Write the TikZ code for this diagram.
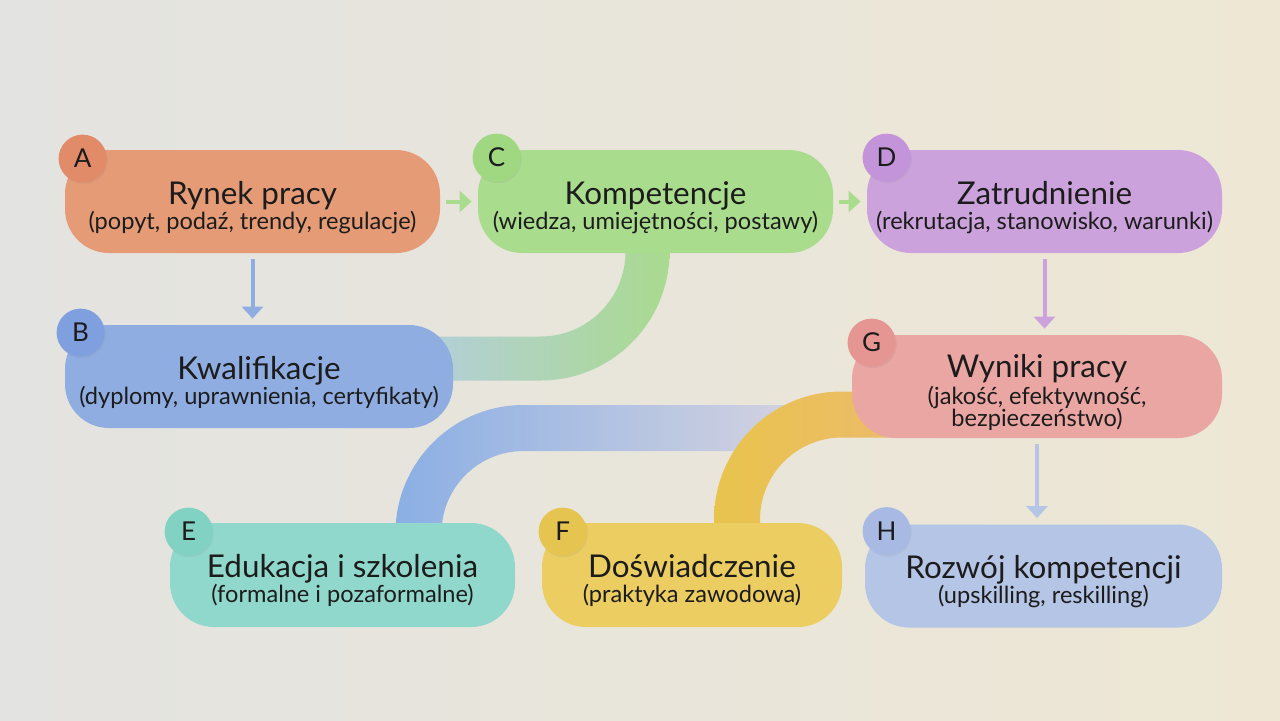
\documentclass[tikz,border=0pt]{standalone}
\usepackage{fontspec}
\setmainfont{Lato}
\usetikzlibrary{arrows.meta, calc, positioning, shadows}

\definecolor{ink}{HTML}{1C1C1C}
\definecolor{bgL}{HTML}{E3E3E1}
\definecolor{bgR}{HTML}{EEE7D4}
\definecolor{rynekC}{HTML}{E59B76}
\definecolor{rynekB}{HTML}{E28B68}
\definecolor{kwalC}{HTML}{8FADE1}
\definecolor{kwalB}{HTML}{809FDE}
\definecolor{kompC}{HTML}{AADC8E}
\definecolor{kompB}{HTML}{A0D882}
\definecolor{zatrC}{HTML}{CCA2DC}
\definecolor{zatrB}{HTML}{C494DA}
\definecolor{eduC}{HTML}{91D8CC}
\definecolor{eduB}{HTML}{82D2C4}
\definecolor{doswC}{HTML}{ECCD62}
\definecolor{doswB}{HTML}{E6C450}
\definecolor{wynikiC}{HTML}{EAA6A2}
\definecolor{wynikiB}{HTML}{E69692}
\definecolor{rozwojC}{HTML}{B5C5E6}
\definecolor{rozwojB}{HTML}{A8BAE4}
\definecolor{greenL}{HTML}{B4CFDA}
\definecolor{greenM}{HTML}{8FD5BF}
\definecolor{greenR}{HTML}{A9DA8F}
\definecolor{blueL}{HTML}{8BAFE4}
\definecolor{blueM}{HTML}{A5B6E2}
\definecolor{blueR}{HTML}{D2D2E0}
\definecolor{yellowL}{HTML}{E8C44D}
\definecolor{yellowR}{HTML}{EDBA6C}

\newcommand{\ttl}[1]{{\fontsize{15.7}{18}\selectfont\rule{0pt}{17.5pt}#1}}

\pgfdeclarelayer{background}
\pgfsetlayers{background,main}

\begin{document}
\begin{tikzpicture}[x=0.5pt, y=-0.5pt,
    pill/.style={rectangle, rounded corners=22pt, minimum height=51.5pt, inner sep=0pt,
        align=center, text=ink, font=\fontsize{11.8}{12.5}\selectfont},
    badge/.style={circle, minimum size=24pt, inner sep=0pt, text=ink,
        font=\fontsize{13}{13}\selectfont,
        drop shadow={shadow xshift=0.6pt, shadow yshift=-0.8pt, opacity=0.12}},
    flow/.style={line width=2pt, -{Triangle[width=10.5pt,length=6pt]},
        shorten <=3pt, shorten >=3pt}]
        \useasboundingbox (0,0) rectangle (1280,720);

        \node[pill, fill=rynekC, minimum width=187.5pt] (rynek) at (252.5,201.5)
            {\ttl{Rynek pracy}\\(popyt, podaź, trendy, regulacje)};
        \node[pill, fill=kwalC, minimum width=194pt] (kwal) at (259,376.5)
            {\ttl{Kwalifikacje}\\(dyplomy, uprawnienia, certyfikaty)};
        \node[pill, fill=kompC, minimum width=177.5pt] (komp) at (655.5,201.5)
            {\ttl{Kompetencje}\\(wiedza, umiejętności, postawy)};
        \node[pill, fill=zatrC, minimum width=177.5pt] (zatr) at (1044.5,201.5)
            {\ttl{Zatrudnienie}\\(rekrutacja, stanowisko, warunki)};
        \node[pill, fill=wynikiC, minimum width=185pt] (wyniki) at (1037,386.5)
            {\ttl{Wyniki pracy}\\[1pt](jakość, efektywność,\\[-1.5pt]bezpieczeństwo)};
        \node[pill, fill=eduC, minimum width=172.5pt, minimum height=52pt] (edu) at (342.5,575)
            {\ttl{Edukacja i szkolenia}\\(formalne i pozaformalne)};
        \node[pill, fill=doswC, minimum width=150pt, minimum height=52pt] (dosw) at (692,575)
            {\ttl{Doświadczenie}\\(praktyka zawodowa)};
        \node[pill, fill=rozwojC, minimum width=178.5pt] (rozwoj) at (1043.5,576)
            {\ttl{Rozwój kompetencji}\\(upskilling, reskilling)};

        \node[badge, fill=rynekB] (badgeA) at ($(rynek.north west)+(18,9)$) {A};
        \node[badge, fill=kwalB] (badgeB) at ($(kwal.north west)+(16,8)$) {B};
        \node[badge, fill=kompB] (badgeC) at ($(komp.north west)+(19,8)$) {C};
        \node[badge, fill=zatrB] (badgeD) at ($(zatr.north west)+(20,8)$) {D};
        \node[badge, fill=eduB] (badgeE) at ($(edu.north west)+(19,9)$) {E};
        \node[badge, fill=doswB] (badgeF) at ($(dosw.north west)+(21,9)$) {F};
        \node[badge, fill=wynikiB] (badgeG) at ($(wyniki.north west)+(20,8)$) {G};
        \node[badge, fill=rozwojB] (badgeH) at ($(rozwoj.north west)+(22,7)$) {H};

        \draw[flow, kwalC] (rynek.south) -- (rynek.south |- kwal.north);
        \draw[flow, kompC] (rynek.east) -- (komp.west);
        \draw[flow, kompC] (komp.east) -- (zatr.west);
        \draw[flow, zatrC] (zatr.south) -- (zatr.south |- wyniki.north);
        \draw[flow, rozwojC] (wyniki.south) -- (wyniki.south |- rozwoj.north);

        \coordinate (gt) at ($(komp.south)+(-8,0)$);
        \coordinate (gl) at ($(kwal.east)+(-30,-18)$);
        \coordinate (gc) at (gt |- gl);
        \coordinate (bt) at ($(edu.north)+(76,0)$);
        \coordinate (eduEnd) at (790,428);
        \coordinate (bc) at (bt |- eduEnd);
        \coordinate (yt) at ($(dosw.north)+(45,0)$);
        \coordinate (yl) at ($(wyniki.west)+(60,28)$);
        \coordinate (yc) at (yt |- yl);

        \begin{pgfonlayer}{background}
        \shade[left color=bgL, right color=bgR] (0,0) rectangle (1280,720);
        \shade[left color=blueL, middle color=blueM, right color=blueR]
            ($(bt)+(23,30)$) -- ($(bc)+(23,105)$) arc[start angle=180, end angle=90, radius=41pt]
            -- ($(eduEnd)+(0,23)$) -- ($(eduEnd)+(0,-23)$) -- ($(bc)+(105,-23)$)
            arc[start angle=90, end angle=180, radius=64pt] -- ($(bt)+(-23,30)$) -- cycle;
        \shade[left color=greenL, middle color=greenM, right color=greenR]
            ($(gt)+(-22,-30)$) -- ($(gc)+(-22,-107)$) arc[start angle=0, end angle=-90, radius=42.5pt]
            -- ($(gl)+(0,-22)$) -- ($(gl)+(0,22)$) -- ($(gc)+(-107,22)$)
            arc[start angle=-90, end angle=0, radius=64.5pt] -- ($(gt)+(22,-30)$) -- cycle;
        \shade[left color=yellowL, right color=yellowR]
            ($(yt)+(23,30)$) -- ($(yc)+(23,105)$) arc[start angle=180, end angle=90, radius=41pt]
            -- ($(yl)+(0,23)$) -- ($(yl)+(0,-23)$) -- ($(yc)+(105,-23)$)
            arc[start angle=90, end angle=180, radius=64pt] -- ($(yt)+(-23,30)$) -- cycle;
        \end{pgfonlayer}
\end{tikzpicture}
\end{document}
